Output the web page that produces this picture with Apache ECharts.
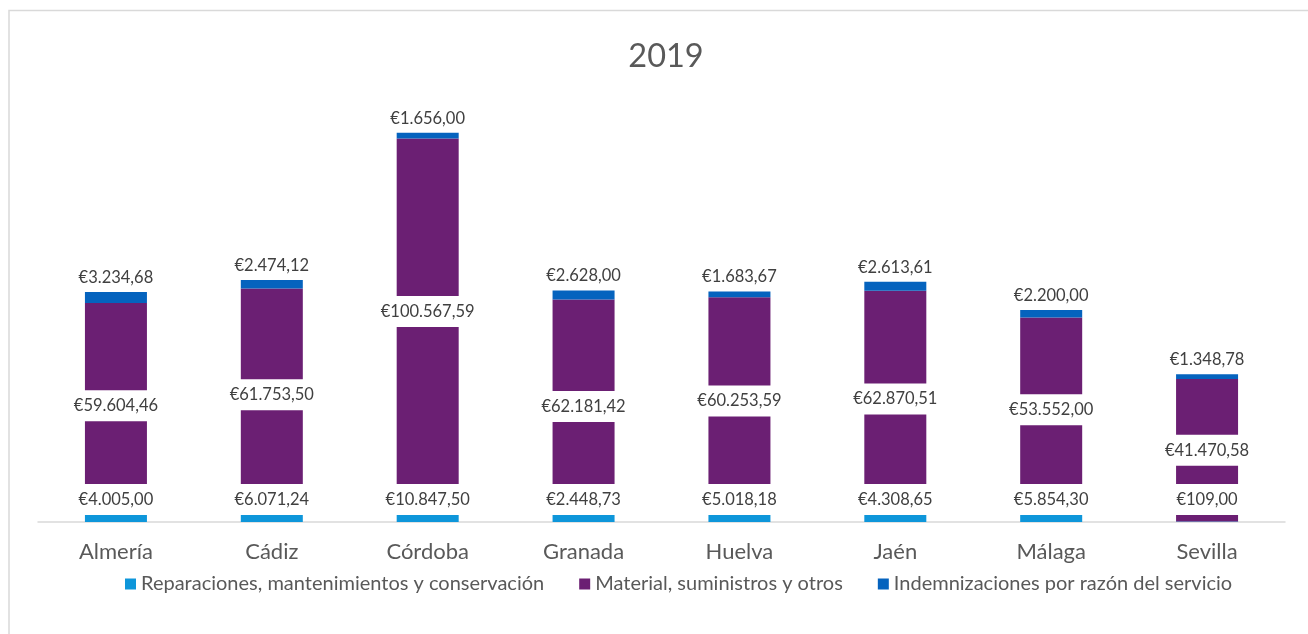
<!DOCTYPE html>
<html>
<head>
<meta charset="utf-8">
<script src="https://cdn.jsdelivr.net/npm/echarts@6/dist/echarts.min.js"></script>
<style>
html,body{margin:0;padding:0;background:#fff;}
#c{width:1308px;height:634px;}
</style>
</head>
<body>
<div id="c"></div>
<script>
const categories = ['Almería','Cádiz','Córdoba','Granada','Huelva','Jaén','Málaga','Sevilla'];
const reparaciones = [4005.00, 6071.24, 10847.50, 2448.73, 5018.18, 4308.65, 5854.30, 109.00];
const material = [59604.46, 61753.50, 100567.59, 62181.42, 60253.59, 62870.51, 53552.00, 41470.58];
const indemnizaciones = [3234.68, 2474.12, 1656.00, 2628.00, 1683.67, 2613.61, 2200.00, 1348.78];
const seriesNames = ['Reparaciones, mantenimientos y conservación','Material, suministros y otros','Indemnizaciones por razón del servicio'];
const colors = ['#0E96DA','#6B1F73','#0563BE'];

function fmt(v){
  const parts = v.toFixed(2).split('.');
  const intPart = parts[0].replace(/\B(?=(\d{3})+(?!\d))/g, '.');
  return '€' + intPart + ',' + parts[1];
}

const FONT = 'Lato';
const baseLabel = {
  show: true,
  formatter: p => fmt(p.value),
  fontFamily: FONT,
  fontSize: 16.5,
  color: '#404040',
  lineHeight: 19
};

const chart = echarts.init(document.getElementById('c'));
chart.setOption({
  animation: false,
  backgroundColor: '#fff',
  title: {
    text: '2019',
    left: 661,
    textAlign: 'center',
    top: 35,
    textStyle: {fontFamily: FONT, fontSize: 32.5, fontWeight: 'normal', color: '#595959'}
  },
  graphic: [{
    type: 'rect',
    silent: true,
    shape: {x: 9, y: 10.5, width: 1400, height: 700},
    style: {fill: 'none', stroke: '#d9d9d9', lineWidth: 1.5}
  }],
  legend: {
    left: 125,
    top: 574,
    padding: 0,
    itemWidth: 11,
    itemHeight: 11,
    itemGap: 35,
    icon: 'rect',
    textStyle: {fontFamily: FONT, fontSize: 20, color: '#595959'},
    data: seriesNames
  },
  grid: {left: 38, right: 23, top: 109, height: 413},
  xAxis: {
    type: 'category',
    data: categories,
    axisLine: {lineStyle: {color: '#d9d9d9', width: 1.5}},
    axisTick: {show: false},
    axisLabel: {fontFamily: FONT, fontSize: 22, color: '#595959', margin: 19}
  },
  yAxis: {
    type: 'value',
    min: 0,
    max: 120000,
    show: false,
    splitLine: {show: false}
  },
  series: [
    {
      name: seriesNames[0], type: 'bar', stack: 'total', data: reparaciones,
      barWidth: 62, itemStyle: {color: colors[0]},
      label: Object.assign({}, baseLabel, {
        position: 'insideBottom', distance: 7,
        backgroundColor: '#fff', padding: [6, 8]
      })
    },
    {
      name: seriesNames[1], type: 'bar', stack: 'total', data: material,
      barWidth: 62, itemStyle: {color: colors[1]},
      label: Object.assign({}, baseLabel, {
        position: 'inside',
        backgroundColor: '#fff', padding: [6, 8]
      })
    },
    {
      name: seriesNames[2], type: 'bar', stack: 'total', data: indemnizaciones,
      barWidth: 62, itemStyle: {color: colors[2]},
      label: Object.assign({}, baseLabel, {
        position: 'top', distance: 5
      })
    }
  ]
});
</script>
</body>
</html>
